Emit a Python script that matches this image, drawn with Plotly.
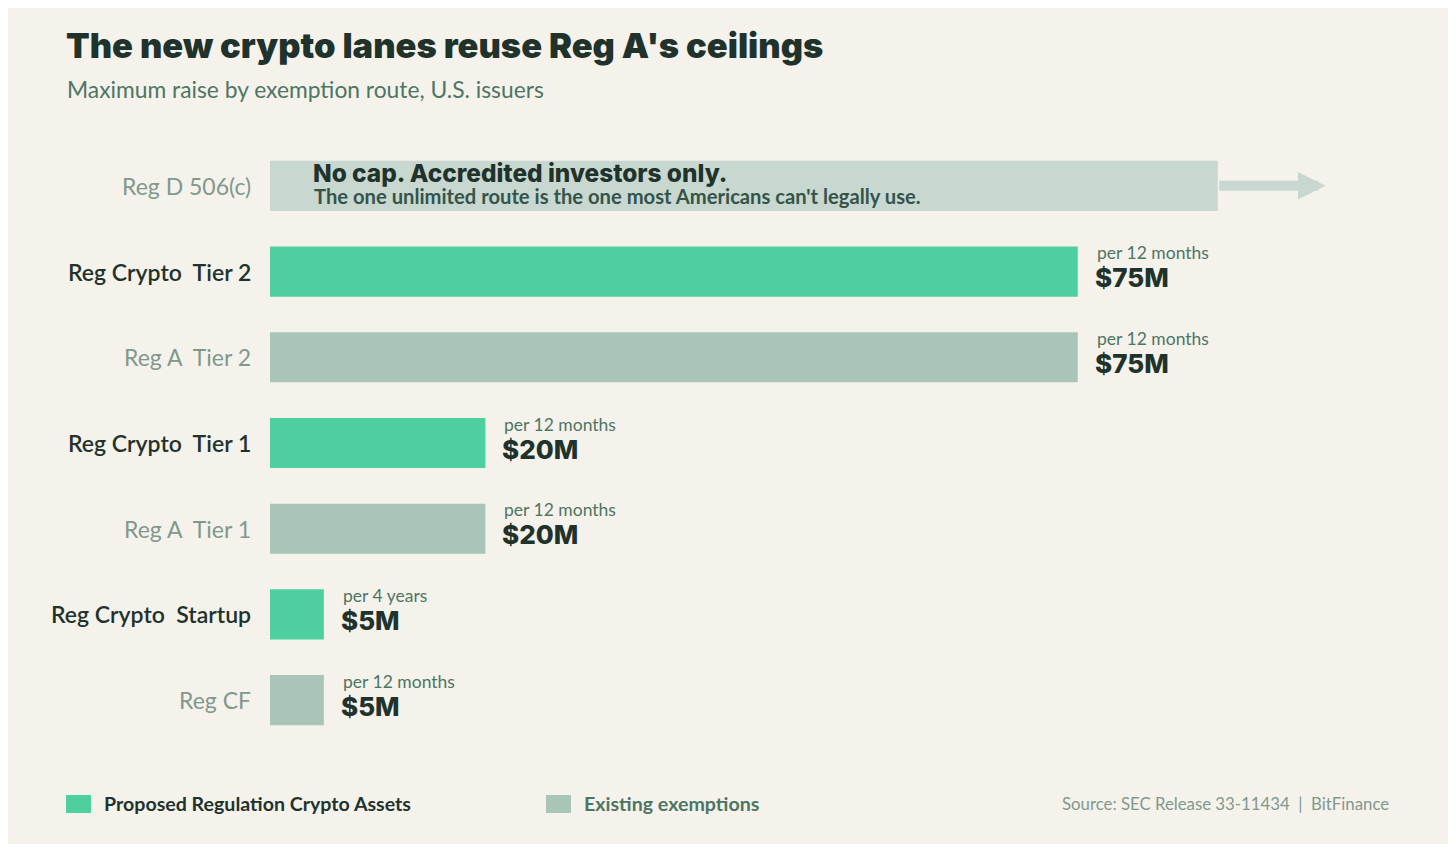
import plotly.graph_objects as go

# values, top row first
routes = ["Reg D 506(c)", "Reg Crypto  Tier 2", "Reg A  Tier 2", "Reg Crypto  Tier 1",
          "Reg A  Tier 1", "Reg Crypto  Startup", "Reg CF"]
caps_musd = [None, 75, 75, 20, 20, 5, 5]
periods = [None, "per 12 months", "per 12 months", "per 12 months",
           "per 12 months", "per 4 years", "per 12 months"]
groups = ["uncapped", "proposed", "existing", "proposed", "existing", "proposed", "existing"]

UNCAPPED_DRAW = 88  # how far the no-cap bar is drawn before the arrow
ARROW_TO = 98

BG = "#f5f2ec"
GREEN = "#4ecf9f"
SAGE = "#a8c5b8"
PALE = "#c8d7d0"
DARK = "#1f332c"
MID = "#4d7563"
GREY = "#80998c"
FONT = "Lato"
HEAVY = "Inter"

colors = {"proposed": GREEN, "existing": SAGE, "uncapped": PALE}

# page puts the plot 8px in from the window corner
OFF = 8
W, H = 1456 - 2 * OFF, 852 - 2 * OFF
L, R, T, B = 270 - OFF, 101, 143 - OFF, 101
pw, ph = W - L - R, H - T - B


def px_x(x):
    return (x - OFF - L) / pw


def px_y(y):
    return (H - B - (y - OFF)) / ph


fig = go.Figure()
for g in ["uncapped", "proposed", "existing"]:
    ys = [r for r, gg in zip(routes, groups) if gg == g]
    xs = [UNCAPPED_DRAW if c is None else c for c, gg in zip(caps_musd, groups) if gg == g]
    fig.add_trace(go.Bar(
        y=ys, x=xs, orientation="h", width=0.585,
        marker=dict(color=colors[g], line=dict(width=0)),
        hoverinfo="skip", showlegend=False,
    ))

anns = []
for r, c, p, g in zip(routes, caps_musd, periods, groups):
    lab_color = DARK if g == "proposed" else GREY
    anns.append(dict(
        x=0, y=r, xref="x", yref="y", xanchor="right", yanchor="middle", xshift=-17,
        text=r.replace("  ", "\u00a0 "), showarrow=False,
        font=dict(family=FONT, size=23, color=lab_color, weight=600 if g == "proposed" else 400),
    ))
    if c is None:
        continue
    anns.append(dict(
        x=c, y=r, xref="x", yref="y", xanchor="left", yanchor="middle", xshift=17, yshift=19,
        text=p, showarrow=False, font=dict(family=FONT, size=17.5, color=MID),
    ))
    anns.append(dict(
        x=c, y=r, xref="x", yref="y", xanchor="left", yanchor="middle", xshift=15, yshift=-6,
        text=f"${c}M", showarrow=False, font=dict(family=HEAVY, size=26, color=DARK, weight=800),
    ))

# no-cap row: arrow and the two-line note inside the bar
top = routes[0]
anns.append(dict(
    x=ARROW_TO, y=top, ax=UNCAPPED_DRAW, ay=top, xref="x", yref="y", axref="x", ayref="y",
    text="", showarrow=True, arrowhead=2, arrowsize=0.55, arrowwidth=10, arrowcolor=PALE,
    standoff=0, startstandoff=0,
))
anns.append(dict(
    x=0, y=top, xref="x", yref="y", xanchor="left", yanchor="middle", xshift=41, yshift=13,
    text="No cap. Accredited investors only.", showarrow=False,
    font=dict(family=HEAVY, size=24.4, color=DARK, weight=800),
))
anns.append(dict(
    x=0, y=top, xref="x", yref="y", xanchor="left", yanchor="middle", xshift=42, yshift=-10.5,
    text="The one unlimited route is the one most Americans can't legally use.", showarrow=False,
    font=dict(family=FONT, size=20.2, color="#34544a", weight=700),
))

# title block
anns.append(dict(
    x=px_x(64), y=px_y(45), xref="paper", yref="paper", xanchor="left", yanchor="middle",
    text="The new crypto lanes reuse Reg A's ceilings", showarrow=False,
    font=dict(family=HEAVY, size=34.5, color=DARK, weight=900),
))
anns.append(dict(
    x=px_x(65), y=px_y(89), xref="paper", yref="paper", xanchor="left", yanchor="middle",
    text="Maximum raise by exemption route, U.S. issuers", showarrow=False,
    font=dict(family=FONT, size=22.8, color=MID),
))

# legend + source line
legend_items = [("Proposed Regulation Crypto Assets", GREEN, DARK, 66),
                ("Existing exemptions", SAGE, MID, 546)]
shapes = []
for text, sw, tc, x0 in legend_items:
    shapes.append(dict(
        type="rect", xref="paper", yref="paper",
        x0=px_x(x0), x1=px_x(x0 + 25), y0=px_y(813), y1=px_y(795),
        fillcolor=sw, line=dict(width=0),
    ))
    anns.append(dict(
        x=px_x(x0 + 36), y=px_y(803), xref="paper", yref="paper", xanchor="left", yanchor="middle",
        text=text, showarrow=False, font=dict(family=FONT, size=19.6, color=tc, weight=700),
    ))
anns.append(dict(
    x=px_x(1391), y=px_y(803), xref="paper", yref="paper", xanchor="right", yanchor="middle",
    text="Source: SEC Release 33-11434\u00a0 |\u00a0 BitFinance", showarrow=False,
    font=dict(family=FONT, size=16.8, color=GREY),
))

fig.update_layout(
    width=W, height=H,
    margin=dict(l=L, r=R, t=T, b=B),
    paper_bgcolor=BG, plot_bgcolor=BG,
    barmode="overlay",
    xaxis=dict(range=[0, 100], visible=False, fixedrange=True),
    yaxis=dict(categoryorder="array", categoryarray=routes,
               range=[len(routes) - 0.5, -0.5], showticklabels=False, showgrid=False,
               zeroline=False, fixedrange=True),
    annotations=anns, shapes=shapes,
    font=dict(family=FONT),
)

fig.write_html("out.html")
